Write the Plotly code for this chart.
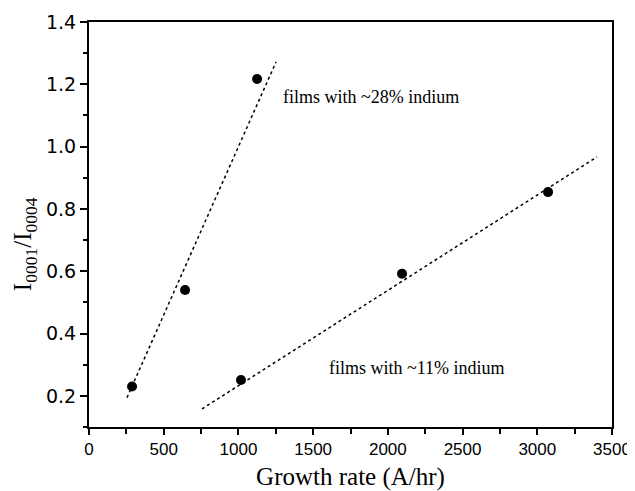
import plotly.graph_objects as go

# Data points
rate_28 = [288, 643, 1125]
ratio_28 = [0.23, 0.54, 1.217]
rate_11 = [1017, 2095, 3072]
ratio_11 = [0.251, 0.592, 0.854]

# Fitted dotted lines (endpoints)
fit28_x = [254, 1252]
fit28_y = [0.194, 1.272]
fit11_x = [756, 3400]
fit11_y = [0.158, 0.967]

x_ticks = [0, 500, 1000, 1500, 2000, 2500, 3000, 3500]
y_ticks = [0.2, 0.4, 0.6, 0.8, 1.0, 1.2, 1.4]

serif = "Liberation Serif, Times New Roman, serif"
sans = "Liberation Sans, Arial, sans-serif"
wide_sans = "DejaVu Sans, Arial, sans-serif"

fig = go.Figure()
fig.add_trace(go.Scatter(x=fit28_x, y=fit28_y, mode="lines",
                         line=dict(color="black", width=1.5, dash="dot"), showlegend=False))
fig.add_trace(go.Scatter(x=fit11_x, y=fit11_y, mode="lines",
                         line=dict(color="black", width=1.5, dash="dot"), showlegend=False))
fig.add_trace(go.Scatter(x=rate_28, y=ratio_28, mode="markers",
                         marker=dict(color="black", size=10), showlegend=False))
fig.add_trace(go.Scatter(x=rate_11, y=ratio_11, mode="markers",
                         marker=dict(color="black", size=10), showlegend=False))

fig.add_annotation(x=1285, y=1.16, text="films with ~28% indium", showarrow=False,
                   xanchor="left", yanchor="middle", font=dict(family=serif, size=18, color="black"))
fig.add_annotation(x=1593, y=0.289, text="films with ~11% indium", showarrow=False,
                   xanchor="left", yanchor="middle", font=dict(family=serif, size=18, color="black"))
fig.add_annotation(xref="paper", yref="paper", x=-0.122, y=0.452, textangle=-90,
                   text="I<sub>0001</sub>/I<sub>0004</sub>", showarrow=False,
                   xanchor="center", yanchor="middle", font=dict(family=serif, size=25, color="black"))

fig.update_xaxes(range=[0, 3500], tickvals=x_ticks, ticktext=[str(v) for v in x_ticks],
                 ticks="outside", ticklen=6, tickwidth=1.5, tickcolor="black",
                 minor=dict(dtick=250, tick0=0, ticks="outside", ticklen=5, tickwidth=1.5, tickcolor="black"),
                 showline=True, linewidth=2, linecolor="black", mirror=True,
                 showgrid=False, zeroline=False,
                 tickfont=dict(family=sans, size=17, color="black"),
                 title=dict(text="Growth rate (A/hr)", font=dict(family=serif, size=25, color="black"), standoff=9))
fig.update_yaxes(range=[0.1, 1.4], tickvals=y_ticks, ticktext=[f"{v:.1f}" for v in y_ticks],
                 ticks="outside", ticklen=7, tickwidth=1.5, tickcolor="black",
                 minor=dict(dtick=0.1, tick0=0.1, ticks="outside", ticklen=4, tickwidth=1.5, tickcolor="black"),
                 showline=True, linewidth=2, linecolor="black", mirror=True,
                 showgrid=False, zeroline=False,
                 tickfont=dict(family=wide_sans, size=19, color="black"))

fig.update_layout(width=627, height=483, margin=dict(l=81, r=23, t=14, b=64, autoexpand=False),
                  plot_bgcolor="white", paper_bgcolor="white")
fig.write_html("out.html")
